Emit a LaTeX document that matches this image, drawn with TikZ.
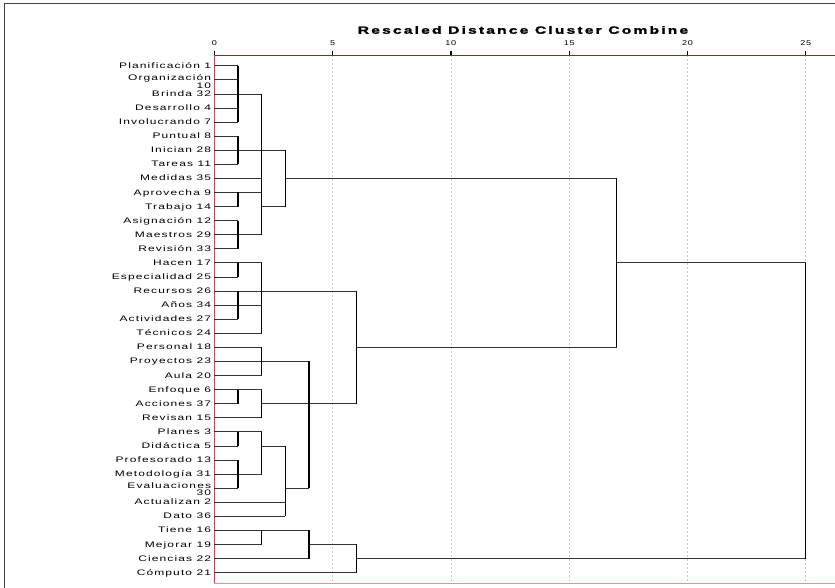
\documentclass[tikz,border=0pt]{standalone}
\usepackage{fontspec}
\setmainfont{Liberation Sans}
\newfontfamily\lblfont[FakeStretch=1.5,LetterSpace=14]{Liberation Sans}
\newfontfamily\tickfont[FakeStretch=1.3,LetterSpace=10]{Liberation Sans}
\newfontfamily\ttlfont[FakeStretch=1.5,LetterSpace=20,BoldFeatures={FakeBold=1.5}]{Liberation Sans}
\begin{document}
\begin{tikzpicture}[x=1pt,y=-1pt,
  lbl/.style={anchor=east,inner sep=0pt,font=\lblfont\fontsize{8}{8}\selectfont,text height=5.7pt,text depth=0.5pt},
  lbltwo/.style={anchor=east,inner sep=0pt,align=right,font=\lblfont\fontsize{8}{7.8}\selectfont},
  hl/.style={draw=black!80,line width=0.7pt},
  vl/.style={draw=black,line width=1.3pt},
  gridln/.style={draw=black!22,line width=0.8pt,dash pattern=on 2pt off 2pt},
  tickmk/.style={draw=black,line width=1.2pt},
  ticklbl/.style={font=\tickfont\fontsize{7}{8}\selectfont,inner sep=0pt}]
\useasboundingbox (0,0) rectangle (835,587);
% outer frame
\coordinate (fa) at (4,590);
\coordinate (fb) at (4,3);
\coordinate (fc) at (840,3);
\draw[black!75,line width=0.9pt] (fa) -- (fb) -- (fc);
% axis coordinates
\foreach \d in {0,...,25} \coordinate (g\d) at ({214.3+23.66*\d},55);
\coordinate (bot) at (214.3,583);
\coordinate (axR) at (840,55);
\coordinate (botR) at (840,583);
% grid
\foreach \d in {5,10,...,25} \draw[gridln] (g\d) -- (g\d |- bot);
% red frame
\draw[red!65!black!90,line width=0.8pt] (g0) -- (axR);
\draw[red!80,line width=0.9pt] (g0) -- (bot);
\draw[red!45,line width=0.8pt] (bot) -- (botR);
% ticks and tick labels
\foreach \d in {0,5,...,25} {
  \draw[tickmk] (g\d) -- ++(0,-4);
  \node[ticklbl] (t\d) at ([yshift=12pt]g\d) {\d};
}
% title
\node[font=\ttlfont\bfseries\fontsize{10.5}{12}\selectfont,inner sep=0pt] (title) at (523,30) {Rescaled Distance Cluster Combine};
% rows
\foreach \i in {0,...,36} \coordinate (r\i) at (214.3,{65.7+14.08*\i});
% labels
\foreach \i/\t in {0/Planificación 1,2/Brinda 32,3/Desarrollo 4,4/Involucrando 7,5/Puntual 8,6/Inician 28,7/Tareas 11,8/Medidas 35,9/Aprovecha 9,10/Trabajo 14,11/Asignación 12,12/Maestros 29,13/Revisión 33,14/Hacen 17,15/Especialidad 25,16/Recursos 26,17/Años 34,18/Actividades 27,19/Técnicos 24,20/Personal 18,21/Proyectos 23,22/Aula 20,23/Enfoque 6,24/Acciones 37,25/Revisan 15,26/Planes 3,27/Didáctica 5,28/Profesorado 13,29/Metodología 31,31/Actualizan 2,32/Dato 36,33/Tiene 16,34/Mejorar 19,35/Ciencias 22,36/Cómputo 21}
  \node[lbl] (l\i) at ([xshift=-3pt]r\i) {\t};
\node[lbltwo] (l1) at ([xshift=-3pt,yshift=-1.5pt]r1) {Organización\\10};
\node[lbltwo] (l30) at ([xshift=-3pt,yshift=-1pt]r30) {Evaluaciones\\30};
% horizontal segments: row/from/to
\foreach \i/\a/\b in {0/0/1,1/0/1,2/0/2,3/0/1,4/0/1,5/0/1,6/0/3,7/0/1,8/0/2,8/3/17,9/0/2,10/0/1,10/2/3,11/0/1,12/0/2,13/0/1,14/0/2,14/17/25,15/0/1,16/0/6,17/0/2,18/0/1,19/0/2,20/0/2,20/6/17,21/0/4,22/0/2,23/0/2,24/0/1,24/2/6,25/0/2,26/0/2,27/0/1,27/2/3,28/0/1,29/0/2,30/0/1,30/3/4,31/0/3,32/0/3,33/0/4,34/0/2,34/4/6,35/0/4,35/6/25,36/0/6}
  \draw[hl] (r\i -| g\a) -- (r\i -| g\b);
% vertical segments: fromrow/torow/distance
\foreach \a/\b/\d in {0/4/1,5/7/1,9/10/1,11/13/1,2/12/2,6/10/3,8/20/17,14/15/1,16/18/1,14/19/2,16/24/6,20/22/2,23/24/1,23/25/2,26/27/1,28/30/1,26/29/2,27/32/3,21/30/4,33/34/2,33/35/4,34/36/6,14/35/25}
  \draw[vl] (r\a -| g\d) -- (r\b -| g\d);
\end{tikzpicture}
\end{document}
